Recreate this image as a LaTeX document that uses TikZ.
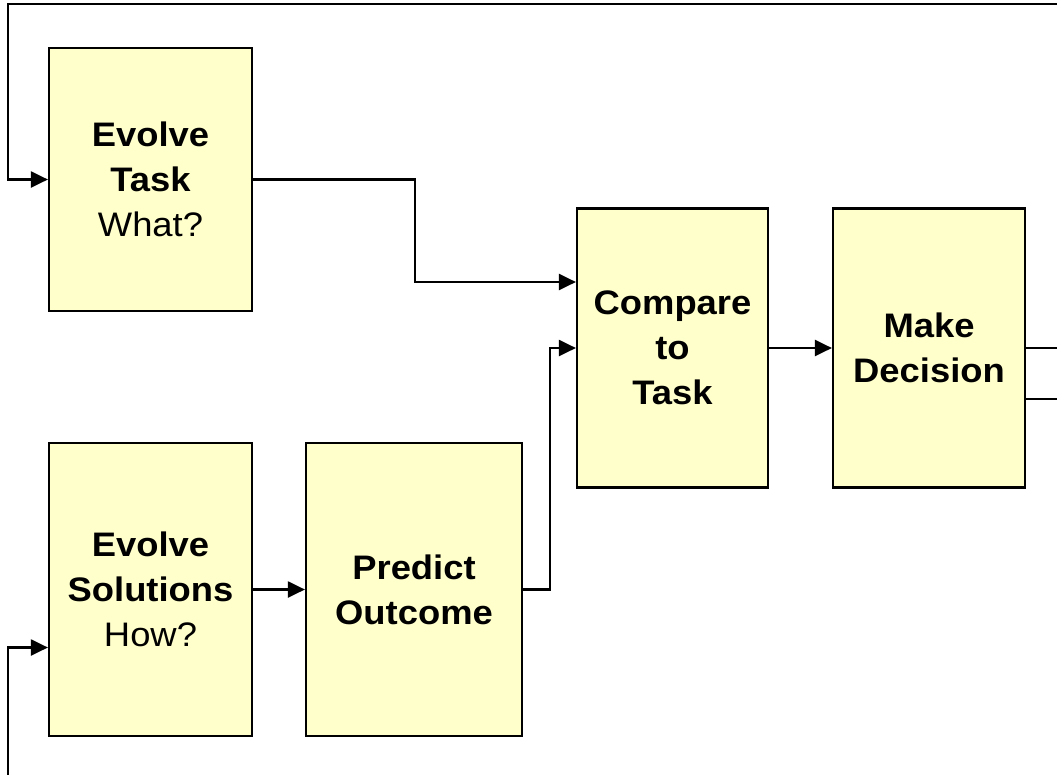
\documentclass[tikz,border=0pt]{standalone}
\usepackage{fontspec}
\setmainfont{Liberation Sans}[FakeStretch=1.07]
\usetikzlibrary{arrows.meta}
\definecolor{boxfill}{HTML}{FFFFCC}
\tikzset{
  stagebox/.style={draw=black, line width=2.2pt, fill=boxfill, align=center,
    inner sep=0pt, font=\fontsize{34}{45}\selectfont},
  link/.style={draw=black, line width=2.2pt},
  arr/.style={link, -{Triangle[length=17pt,width=16pt]}},
}
\begin{document}
\begin{tikzpicture}[x=1pt,y=-1pt]
  \useasboundingbox (0,0) rectangle (1057,774);

  % process stages
  \node[stagebox, minimum width=203pt, minimum height=263pt] (task) at (150.5,179.5)
    {\textbf{Evolve}\\\textbf{Task}\\What?};
  \node[stagebox, minimum width=203pt, minimum height=293pt] (sol) at (150.5,589.5)
    {\textbf{Evolve}\\\textbf{Solutions}\\How?};
  \node[stagebox, minimum width=216pt, minimum height=293pt] (pred) at (414,589.5)
    {\textbf{Predict}\\\textbf{Outcome}};
  \node[stagebox, minimum width=191pt, minimum height=279pt] (cmp) at (672.5,348)
    {\textbf{Compare}\\\textbf{to}\\\textbf{Task}};
  \node[stagebox, minimum width=192pt, minimum height=279pt] (dec) at (929,348)
    {\textbf{Make}\\\textbf{Decision}};

  % loose ends of the feedback loops
  \coordinate (topin) at (1062,4);
  \coordinate (botin) at (8,780);
  \coordinate (out1) at (1062,348);
  \coordinate (out2) at (1062,399);

  % feedback into the task stage
  \draw[arr] (topin) -- (8,4) |- (task.west);
  % feedback into the solution stage
  \draw[arr] (botin) |- ([yshift=-58pt]sol.west);

  % forward flow
  \draw[arr] (task.east) -- (415,179.5) |- ([yshift=66pt]cmp.west);
  \draw[arr] (sol.east) -- (pred.west);
  \draw[arr] (pred.east) -- (550,589.5) |- (cmp.west);
  \draw[arr] (cmp.east) -- (dec.west);

  % decision outputs
  \draw[link] (dec.east) -- (out1);
  \draw[link] ([yshift=-51pt]dec.east) -- (out2);
\end{tikzpicture}
\end{document}
